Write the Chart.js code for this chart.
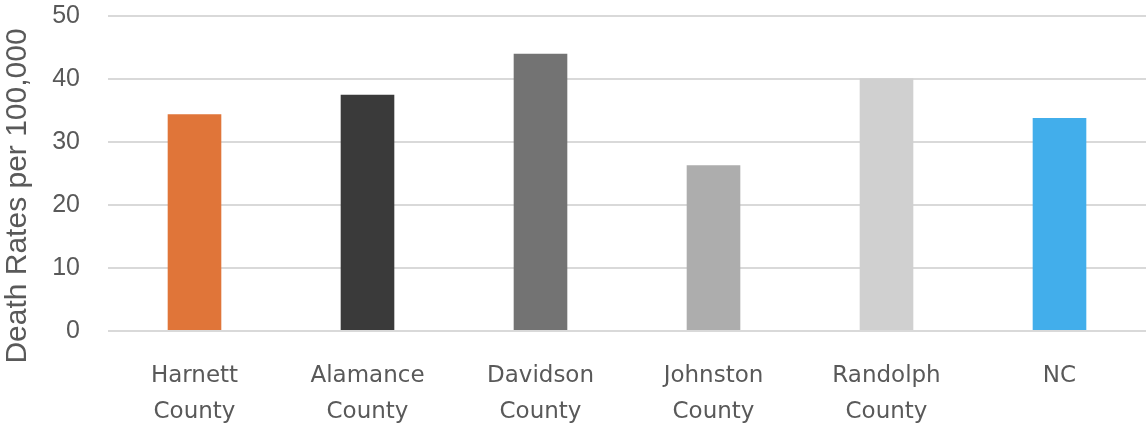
<!DOCTYPE html>
<html>
  <head>
    <title>Death Rates</title>
    <script src="https://cdn.jsdelivr.net/npm/chart.js"></script>
    <style>
      body { margin: 0; background: #fff; }
      #wrap { width: 1147px; height: 423px; }
    </style>
  </head>
  <body>
    <div id="wrap"><canvas id="rateChart"></canvas></div>
    <script>
      var counties = [
        ["Harnett", "County"],
        ["Alamance", "County"],
        ["Davidson", "County"],
        ["Johnston", "County"],
        ["Randolph", "County"],
        ["NC"]
      ];
      var deathRates = [34.4, 37.5, 44.0, 26.3, 40.1, 33.8];
      var barColors = ["#E07539", "#3A3A3A", "#737373", "#ADADAD", "#D0D0D0", "#42AEEB"];
      var yTicks = [0, 10, 20, 30, 40, 50];
      var yTitle = "Death Rates per 100,000";

      // Excel puts the axis title a bit lower than the plot centre, so draw it here
      var axisTitle = {
        id: "axisTitle",
        afterDraw: function (chart) {
          var c = chart.ctx;
          c.save();
          c.translate(18, 196);
          c.rotate(-Math.PI / 2);
          c.font = "30px 'Liberation Sans', Arial, sans-serif";
          c.fillStyle = "#595959";
          c.textAlign = "center";
          c.textBaseline = "middle";
          c.fillText(yTitle, 0, 0);
          c.restore();
        },
      };

      var ctx = document.getElementById("rateChart").getContext("2d");
      var rateChart = new Chart(ctx, {
        type: "bar",
        data: {
          labels: counties,
          datasets: [
            {
              label: yTitle,
              data: deathRates,
              backgroundColor: barColors,
              borderWidth: 0,
              categoryPercentage: 1,
              barPercentage: 0.31,
            },
          ],
        },
        options: {
          responsive: true,
          maintainAspectRatio: false,
          animation: false,
          layout: { padding: { top: 16, right: 1, left: 0, bottom: 0 } },
          plugins: {
            legend: { display: false },
            tooltip: { enabled: false },
          },
          scales: {
            x: {
              grid: { display: false, drawTicks: false },
              border: { display: false },
              ticks: {
                color: "#595959",
                padding: 27,
                maxRotation: 0,
                font: { family: "'DejaVu Sans', sans-serif", size: 23, lineHeight: 1.58 },
              },
              afterFit: function (axis) { axis.height = 92; },
            },
            y: {
              min: 0,
              max: 50,
              afterBuildTicks: function (axis) {
                axis.ticks = yTicks.map(function (v) { return { value: v }; });
              },
              grid: { color: "#D9D9D9", lineWidth: 2, drawTicks: false },
              border: { display: false },
              ticks: {
                color: "#595959",
                padding: 28,
                font: { family: "'Liberation Sans', Arial, sans-serif", size: 25 },
              },
              afterFit: function (axis) {
                axis.width = 108;
                axis.paddingTop = 0;
                axis.paddingBottom = 0;
              },
            },
          },
        },
        plugins: [axisTitle],
      });
    </script>
  </body>
</html>
